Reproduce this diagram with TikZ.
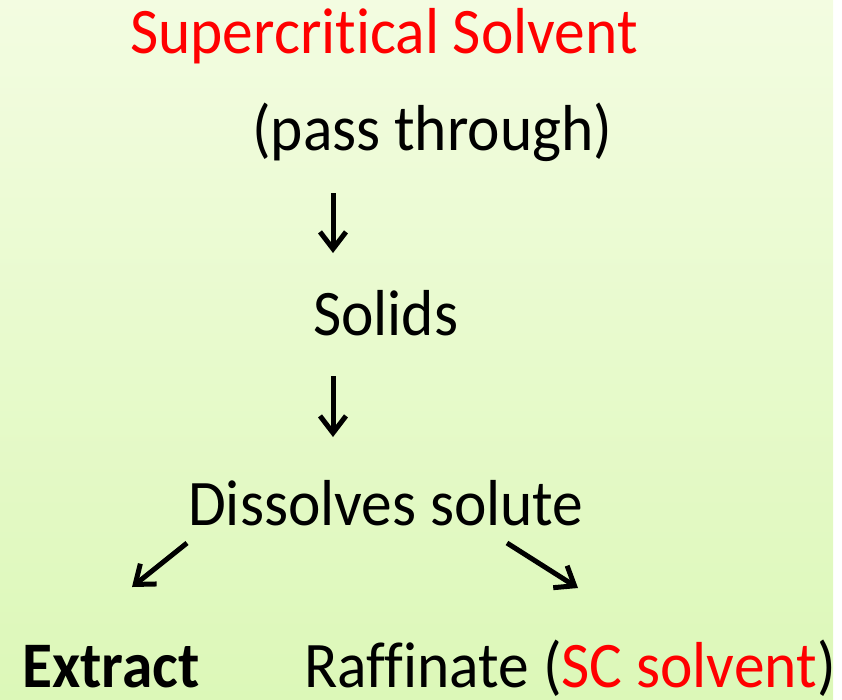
\documentclass[tikz,border=0pt]{standalone}
\usepackage{xcolor}
\usepackage{fontspec}
\setmainfont[FakeStretch=0.945,Ligatures=NoCommon]{Carlito}
\usetikzlibrary{arrows.meta}
\definecolor{bgtop}{HTML}{F3FCE1}
\definecolor{bgbot}{HTML}{DCF8B8}
\definecolor{scred}{HTML}{FF0000}
\tikzset{
  word/.style={anchor=base west,inner sep=0pt,font=\fontsize{65}{78}\selectfont},
  flow/.style={-{Straight Barb[length=17pt,width=26pt,line width=5pt]},line width=5pt}
}

\begin{document}
\begin{tikzpicture}[x=1pt,y=-1pt]
		\useasboundingbox (0,0) rectangle (842,699);
		\shade[top color=bgtop,bottom color=bgbot] (0,0) rectangle (833,699);
		% text
		\node[word,scred] (solvent) at (130,53) {Supercritical Solvent};
		\node[word] (pass) at (252,150) {(pass through)};
		\node[word] (solids) at (313,335) {Solids};
		\node[word] (dissolve) at (188,525) {Dissolves solute};
		\node[word,text depth=0pt,font=\fontsize{65}{78}\selectfont\bfseries] (extract) at (22,687) {Extract};
		\node[word,text depth=0pt] (raffinate) at (304,687) {Raffinate (\textcolor{scred}{SC solvent})};
		% arrows
		\coordinate (a1) at (333,193);
		\coordinate (b1) at (333,253);
		\coordinate (a2) at (333,376);
		\coordinate (b2) at (333,437);
		\coordinate (a3) at (187,543);
		\coordinate (b3) at (132,587);
		\coordinate (a4) at (507,543);
		\coordinate (b4) at (578,588);
		\draw[flow] (a1) -- (b1);
		\draw[flow] (a2) -- (b2);
		\draw[flow] (a3) -- (b3);
		\draw[flow] (a4) -- (b4);
	\end{tikzpicture}
\end{document}
